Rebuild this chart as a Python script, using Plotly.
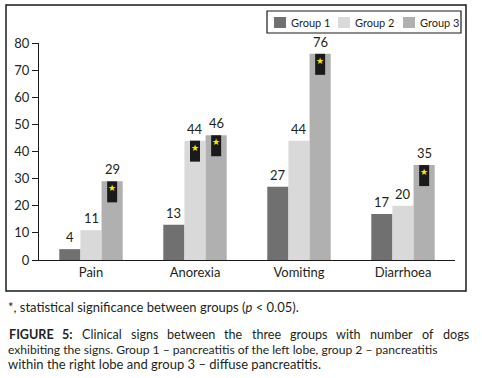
import plotly.graph_objects as go

categories = ["Pain", "Anorexia", "Vomiting", "Diarrhoea"]
group_names = ["Group 1", "Group 2", "Group 3"]
group1 = [4, 13, 27, 17]
group2 = [11, 44, 44, 20]
group3 = [29, 46, 76, 35]
# significance flags (star markers) per group
sig1 = [False, False, False, False]
sig2 = [False, True, False, False]
sig3 = [True, True, True, True]
y_ticks = [0, 10, 20, 30, 40, 50, 60, 70, 80]

colors = ["#707070", "#d9d9d9", "#b0b0b0"]
series = [group1, group2, group3]
sigs = [sig1, sig2, sig3]

W, H = 482, 378
L, R, T, B = 39, 27, 43, 118
pw, ph = W - L - R, H - T - B
FONT = "Lato"
TXT = "#231f20"

def px(x):
    return (x - L) / pw

def py(y):
    return (H - B - y) / ph

xi = list(range(len(categories)))

fig = go.Figure()
bargap = 0.39
bw = (1 - bargap) / 3
for name, vals, col in zip(group_names, series, colors):
    fig.add_trace(go.Bar(x=xi, y=vals, name=name, marker_color=col,
                         marker_line_width=0, showlegend=False, hoverinfo="skip"))

shapes = []
annotations = []
for gi, (vals, sg) in enumerate(zip(series, sigs)):
    off = (gi - 1) * bw
    for ci, v in enumerate(vals):
        xc = xi[ci] + off
        annotations.append(dict(x=xc, y=v, xref="x", yref="y", text=str(v),
                                showarrow=False, yanchor="bottom", yshift=2,
                                font=dict(family=FONT, size=13, color=TXT)))
        if sg[ci]:
            shapes.append(dict(type="rect", xref="x", yref="y",
                               xsizemode="pixel", ysizemode="pixel",
                               xanchor=xc, yanchor=v, x0=-5, x1=5, y0=-21, y1=0,
                               fillcolor="#1a1a1a", line_width=0, layer="above"))
            annotations.append(dict(x=xc, y=v, xref="x", yref="y", text="★",
                                    showarrow=False, yanchor="middle", yshift=-7,
                                    font=dict(family="DejaVu Sans", size=9,
                                              color="#ffe800")))

# outer frame
shapes.append(dict(type="rect", xref="paper", yref="paper",
                   x0=px(6), x1=px(466), y0=py(291), y1=py(5),
                   line=dict(color="#1a1a1a", width=1.5), fillcolor="rgba(0,0,0,0)"))
# legend box
shapes.append(dict(type="rect", xref="paper", yref="paper",
                   x0=px(267), x1=px(461), y0=py(33), y1=py(11),
                   line=dict(color="#1a1a1a", width=1.2), fillcolor="white"))
sw_x = [274, 338, 403]
for name, col, sx in zip(group_names, colors, sw_x):
    shapes.append(dict(type="rect", xref="paper", yref="paper",
                       x0=px(sx), x1=px(sx + 12), y0=py(28), y1=py(17),
                       fillcolor=col, line_width=0))
    annotations.append(dict(x=px(sx + 15), y=py(22.5), xref="paper", yref="paper",
                            text=name, showarrow=False, xanchor="left", yanchor="middle",
                            font=dict(family=FONT, size=11, color=TXT)))

# footnote
annotations.append(dict(x=px(6), y=py(307), xref="paper", yref="paper",
                        text="*, statistical significance between groups (<i>p</i> < 0.05).",
                        showarrow=False, xanchor="left", yanchor="middle",
                        font=dict(family=FONT, size=13, color=TXT)))

# caption line 1, justified (approximate Lato advance widths in em)
EM = {'a': .489, 'b': .553, 'c': .449, 'd': .553, 'e': .514, 'f': .318, 'g': .497,
      'h': .553, 'i': .236, 'l': .236, 'm': .830, 'n': .553, 'o': .553, 'p': .547,
      'r': .366, 's': .419, 't': .349, 'u': .553, 'w': .766, 'C': .676,
      'F': .56, 'I': .28, 'G': .72, 'U': .70, 'R': .62, 'E': .56, '5': .58, ':': .27}
CAP1 = 12.6
words1 = ["FIGURE", "5:", "Clinical", "signs", "between", "the",
          "three", "groups", "with", "number", "of", "dogs"]
bold1 = [True, True] + [False] * 10
widths = [sum(EM.get(ch, .5) for ch in w) * CAP1 for w in words1]
left, right = 7, 466
gap = (right - left - sum(widths)) / (len(words1) - 1)
cx = left
for w, wd, bd in zip(words1, widths, bold1):
    annotations.append(dict(x=px(cx), y=py(334), xref="paper", yref="paper",
                            text=f"<b>{w}</b>" if bd else w, showarrow=False,
                            xanchor="left", yanchor="middle",
                            font=dict(family=FONT, size=CAP1, color=TXT)))
    cx += wd + gap
for txt, yy, fs in [("exhibiting the signs. Group 1 – pancreatitis of the left lobe, group 2 – pancreatitis", 349, 12.1),
                    ("within the right lobe and group 3 – diffuse pancreatitis.", 363.5, 13)]:
    annotations.append(dict(x=px(6), y=py(yy), xref="paper", yref="paper",
                            text=txt, showarrow=False, xanchor="left", yanchor="middle",
                            font=dict(family=FONT, size=fs, color=TXT)))

fig.update_layout(
    width=W, height=H, margin=dict(l=L, r=R, t=T, b=B),
    barmode="group", bargap=bargap, bargroupgap=0,
    plot_bgcolor="white", paper_bgcolor="white",
    font=dict(family=FONT, size=13, color=TXT),
    shapes=shapes, annotations=annotations,
    xaxis=dict(range=[-0.5, len(categories) - 0.5], tickvals=xi, ticktext=categories,
               showgrid=False, zeroline=False, showline=True, linecolor="#1a1a1a",
               linewidth=1.2, ticks="", tickfont=dict(size=13), fixedrange=True),
    yaxis=dict(range=[0, 80], tickvals=y_ticks, showgrid=False, zeroline=False,
               showline=True, linecolor="#1a1a1a", linewidth=1.2,
               ticks="outside", ticklen=6, tickcolor="#1a1a1a", tickfont=dict(size=13),
               fixedrange=True),
)

fig.write_html("out.html", config={"displayModeBar": False},
               post_script="document.body.style.margin='0';document.body.style.padding='0';")
